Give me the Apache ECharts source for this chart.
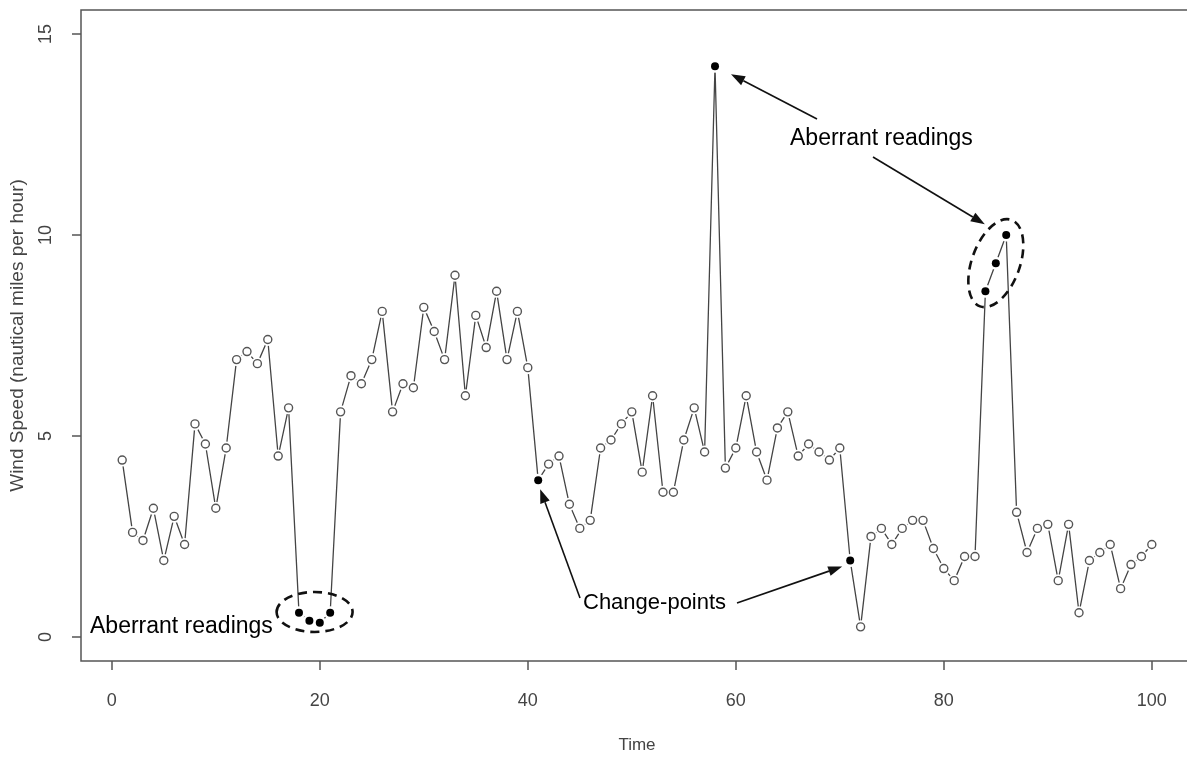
<!DOCTYPE html>
<html>
<head>
<meta charset="utf-8">
<script src="https://cdn.jsdelivr.net/npm/echarts@6/dist/echarts.min.js"></script>
<style>
html, body { margin: 0; padding: 0; background: #fff; }
#chart { width: 1187px; height: 758px; }
</style>
</head>
<body>
<div id="chart"></div>
<script>
// wind speed readings for time 1..100
var windSpeed = [
  4.4, 2.6, 2.4, 3.2, 1.9, 3.0, 2.3, 5.3, 4.8, 3.2,
  4.7, 6.9, 7.1, 6.8, 7.4, 4.5, 5.7, 0.6, 0.4, 0.35,
  0.6, 5.6, 6.5, 6.3, 6.9, 8.1, 5.6, 6.3, 6.2, 8.2,
  7.6, 6.9, 9.0, 6.0, 8.0, 7.2, 8.6, 6.9, 8.1, 6.7,
  3.9, 4.3, 4.5, 3.3, 2.7, 2.9, 4.7, 4.9, 5.3, 5.6,
  4.1, 6.0, 3.6, 3.6, 4.9, 5.7, 4.6, 14.2, 4.2, 4.7,
  6.0, 4.6, 3.9, 5.2, 5.6, 4.5, 4.8, 4.6, 4.4, 4.7,
  1.9, 0.25, 2.5, 2.7, 2.3, 2.7, 2.9, 2.9, 2.2, 1.7,
  1.4, 2.0, 2.0, 8.6, 9.3, 10.0, 3.1, 2.1, 2.7, 2.8,
  1.4, 2.8, 0.6, 1.9, 2.1, 2.3, 1.2, 1.8, 2.0, 2.3
];
// readings marked with a filled dot (aberrant readings and change-points)
var flaggedTimes = [18, 19, 20, 21, 41, 58, 71, 84, 85, 86];
var xTicks = [0, 20, 40, 60, 80, 100];
var yTicks = [0, 5, 10, 15];

var points = windSpeed.map(function (v, i) { return [i + 1, v]; });
var openPts = points.filter(function (p) { return flaggedTimes.indexOf(p[0]) < 0; });
var filledPts = points.filter(function (p) { return flaggedTimes.indexOf(p[0]) >= 0; });

var chart = echarts.init(document.getElementById('chart'));
var axisGray = '#555';
var sans = '"Liberation Sans", Arial, sans-serif';

chart.setOption({
  animation: false,
  backgroundColor: '#fff',
  grid: {
    left: 81, top: 10, width: 1112, height: 651,
    show: true, borderColor: axisGray, borderWidth: 1.5,
    outerBoundsMode: 'none'
  },
  xAxis: {
    type: 'value', min: -2.96, max: 103.96,
    name: 'Time', nameLocation: 'middle', nameGap: 76,
    nameTextStyle: { color: '#444', fontSize: 17, fontFamily: sans },
    axisLine: { show: false, onZero: false },
    axisTick: { show: true, customValues: xTicks, length: 9, lineStyle: { color: axisGray, width: 1.5 } },
    axisLabel: { customValues: xTicks, margin: 31, fontSize: 18, fontFamily: sans, color: '#444' },
    splitLine: { show: false }
  },
  yAxis: {
    type: 'value', min: -0.6, max: 15.6,
    name: 'Wind Speed (nautical miles per hour)', nameLocation: 'middle', nameGap: 54, nameRotate: 90,
    nameTextStyle: { color: '#444', fontSize: 19, fontFamily: sans },
    axisLine: { show: false, onZero: false },
    axisTick: { show: true, customValues: yTicks, length: 9, lineStyle: { color: axisGray, width: 1.5 } },
    axisLabel: { customValues: yTicks, rotate: 90, margin: 26, fontSize: 18, fontFamily: sans, color: '#444' },
    splitLine: { show: false }
  },
  series: [
    {
      // connecting line; white discs leave the small gaps around each point
      type: 'line', data: points, silent: true, z: 2,
      showSymbol: true, showAllSymbol: true,
      symbol: 'circle', symbolSize: 13,
      itemStyle: { color: '#fff', borderWidth: 0 },
      lineStyle: { color: '#444', width: 1.3 }
    },
    {
      type: 'scatter', data: openPts, silent: true, z: 3,
      symbol: 'circle', symbolSize: 8,
      itemStyle: { color: '#fff', borderColor: '#555', borderWidth: 1.4, opacity: 1 }
    },
    {
      type: 'scatter', data: filledPts, silent: true, z: 3,
      symbol: 'circle', symbolSize: 8,
      itemStyle: { color: '#000', opacity: 1 }
    }
  ]
});

function px(x, y) { return chart.convertToPixel({ gridIndex: 0 }, [x, y]); }

function arrow(x1, y1, x2, y2) {
  var a = Math.atan2(y2 - y1, x2 - x1), L = 14, W = 5;
  var bx = x2 - L * Math.cos(a), by = y2 - L * Math.sin(a);
  return [
    { type: 'line', z: 10, shape: { x1: x1, y1: y1, x2: bx, y2: by }, style: { stroke: '#111', lineWidth: 1.6 } },
    { type: 'polygon', z: 10, shape: { points: [[x2, y2],
        [bx + W * Math.sin(a), by - W * Math.cos(a)],
        [bx - W * Math.sin(a), by + W * Math.cos(a)]] }, style: { fill: '#111' } }
  ];
}

function label(text, x, y, size) {
  return { type: 'text', z: 10, style: { text: text, x: x, y: y, fill: '#000',
    font: size + 'px ' + sans, align: 'left', verticalAlign: 'middle' } };
}

var lowCenter = px(19.5, 0.62);
var highCenter = px(85, 9.3);
var p58 = px(58, windSpeed[57]);
var p41 = px(41, windSpeed[40]);
var p71 = px(71, windSpeed[70]);
var dash = { fill: null, stroke: '#111', lineWidth: 2.6, lineDash: [9, 6] };

var els = [
  { type: 'ellipse', z: 10, x: lowCenter[0], y: lowCenter[1], shape: { cx: 0, cy: 0, rx: 38, ry: 20 }, style: dash },
  { type: 'ellipse', z: 10, x: highCenter[0], y: highCenter[1], rotation: -20 * Math.PI / 180,
    shape: { cx: 0, cy: 0, rx: 24, ry: 46 }, style: dash },
  label('Aberrant readings', 90, 627, 23),
  label('Aberrant readings', 790, 139, 23),
  label('Change-points', 583, 603, 22)
];
els = els.concat(
  arrow(817, 119, p58[0] + 16, p58[1] + 8),
  arrow(873, 157, highCenter[0] - 11, highCenter[1] - 39),
  arrow(580, 598, p41[0] + 2, p41[1] + 9),
  arrow(737, 603, p71[0] - 8, p71[1] + 6)
);
chart.setOption({ graphic: { elements: els } });
</script>
</body>
</html>
